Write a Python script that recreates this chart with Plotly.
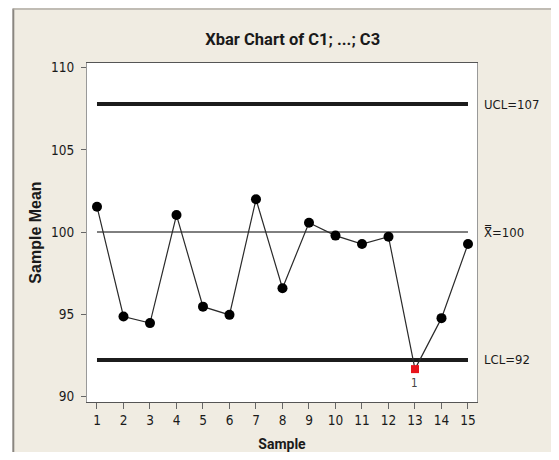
import plotly.graph_objects as go

samples = list(range(1, 16))
sample_means = [101.54, 94.86, 94.46, 101.03, 95.46, 94.96, 101.99, 96.58,
                100.56, 99.78, 99.27, 99.71, 91.66, 94.76, 99.27]
ucl = 107.78
center = 100.0
lcl = 92.22
limit_labels = ["UCL=107", "X\u033f=100", "LCL=92"]
y_ticks = [90, 95, 100, 105, 110]

cond = "DejaVu Sans Condensed, sans-serif"
rob = "Roboto, DejaVu Sans Condensed, sans-serif"
regular = "Liberation Sans, DejaVu Sans, sans-serif"
bg = "#f0ece2"

W, H = 543, 444  # page body adds an 8px margin around the figure

out = [v < lcl or v > ucl for v in sample_means]
colors = ["#e8141c" if o else "#000000" for o in out]
symbols = ["square" if o else "circle" for o in out]
sizes = [8 if o else 10 for o in out]

fig = go.Figure()
fig.add_trace(go.Scatter(x=[samples[0], samples[-1]], y=[ucl, ucl], mode="lines",
                         line=dict(color="#1c1c1c", width=4), hoverinfo="skip"))
fig.add_trace(go.Scatter(x=[samples[0], samples[-1]], y=[lcl, lcl], mode="lines",
                         line=dict(color="#1c1c1c", width=4), hoverinfo="skip"))
fig.add_trace(go.Scatter(x=[samples[0], samples[-1]], y=[center, center], mode="lines",
                         line=dict(color="#000000", width=1), hoverinfo="skip"))
fig.add_trace(go.Scatter(x=samples, y=sample_means, mode="lines+markers",
                         line=dict(color="#2a2a2a", width=1.2),
                         marker=dict(color=colors, symbol=symbols, size=sizes,
                                     opacity=1, line=dict(width=0))))

annotations = []
for lab, val in zip(limit_labels, [ucl, center, lcl]):
    annotations.append(dict(x=1, xref="paper", y=val, yref="y", text=lab,
                            showarrow=False, xanchor="left", xshift=5,
                            font=dict(family=cond, size=13, color="#1a1a1a")))
for s, v, o in zip(samples, sample_means, out):
    if o:
        annotations.append(dict(x=s, y=v, text="1", showarrow=False, yshift=-14,
                                font=dict(family=cond, size=11.5, color="#444")))

ml, mr, mt, mb = 78.7, 74.3, 54.7, 49.7
pw, ph = W - ml - mr, H - mt - mb
fx = lambda px: (px - ml) / pw
fy = lambda py: (H - mb - py) / ph

shapes = [
    dict(type="rect", xref="paper", yref="paper", x0=fx(-5), x1=fx(4.7), y0=fy(H + 5), y1=fy(-5),
         fillcolor="white", line=dict(width=0), layer="below"),
    dict(type="line", xref="paper", yref="paper", x0=fx(5), x1=fx(5), y0=fy(H + 5), y1=fy(0),
         line=dict(color="#8a8680", width=2)),
    dict(type="line", xref="paper", yref="paper", x0=fx(5), x1=fx(W + 5), y0=fy(0.5), y1=fy(0.5),
         line=dict(color="#b0aca4", width=1.5)),
]

fig.update_layout(
    width=W, height=H,
    margin=dict(l=ml, r=mr, t=mt, b=mb, autoexpand=False),
    paper_bgcolor=bg, plot_bgcolor="white",
    showlegend=False,
    title=dict(text="<b>Xbar Chart of C1; ...; C3</b>", x=284.7 / W, xref="container",
               xanchor="center", y=1 - 31 / H, yanchor="middle",
               font=dict(family=rob, size=16.5, color="#1a1a1a")),
    annotations=annotations,
    shapes=shapes,
    font=dict(family=cond, color="#1a1a1a"),
)
fig.update_xaxes(range=[0.623, 15.34], tickvals=samples, ticks="outside", ticklen=6,
                 tickcolor="#666", showgrid=False, zeroline=False, automargin=False,
                 showline=True, linecolor="#555", linewidth=1.2, mirror=True,
                 tickfont=dict(family=cond, size=13.5, color="#1a1a1a"),
                 title=dict(text="<b>Sample</b>", standoff=13,
                            font=dict(family=rob, size=14, color="#1a1a1a")))
fig.update_yaxes(range=[89.66, 110.28], tickvals=y_ticks, ticks="outside", ticklen=5,
                 tickcolor="#666", showgrid=False, zeroline=False, automargin=False,
                 showline=True, linecolor="#999", linewidth=1.2, mirror=True,
                 ticklabelstandoff=4,
                 tickfont=dict(family=cond, size=13.5, color="#1a1a1a"),
                 title=dict(text="<b>Sample Mean</b>", standoff=5,
                            font=dict(family=regular, size=16, color="#1a1a1a")))

fig.write_html("out.html")
